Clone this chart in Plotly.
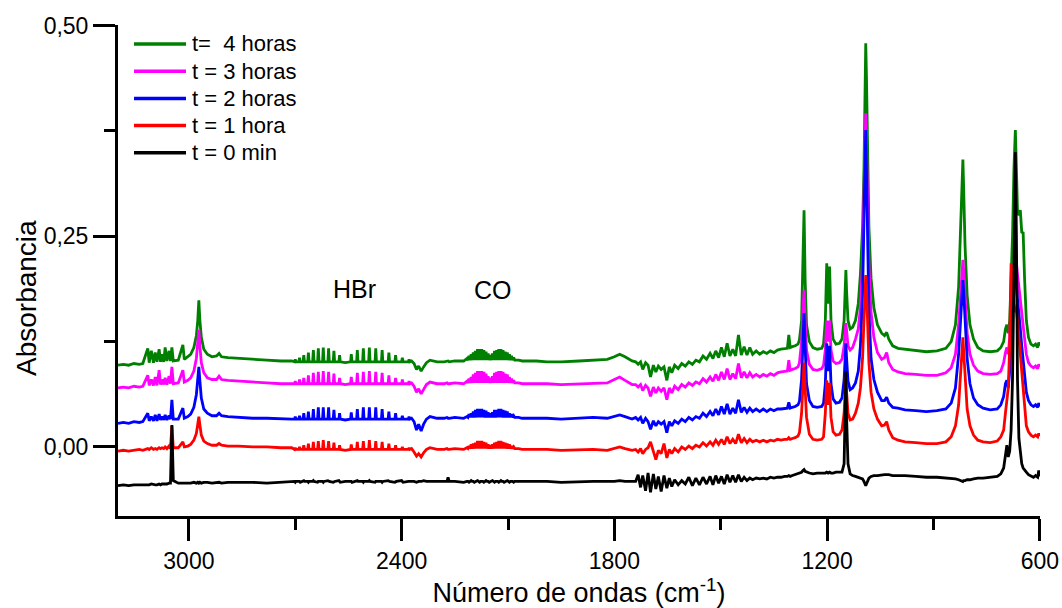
import plotly.graph_objects as go

# FTIR spectra of the gas cell at successive reaction times (wavenumber in cm-1)
wavenumber = [
    3200, 3185, 3170, 3155, 3140, 3130,
    3116, 3112, 3106, 3100, 3095, 3090, 3084, 3080, 3076, 3071, 3067, 3062, 3056, 3052, 3048, 3044, 3030, 3017, 3013,
    3003, 2995, 2986, 2979, 2975, 2972, 2969, 2965, 2958, 2948, 2935, 2922, 2915, 2908, 2890,
    2860, 2820, 2780, 2740, 2710,
    # HBr R branch
    2702, 2700, 2698, 2690, 2688, 2686, 2678, 2676, 2674, 2665, 2663, 2661, 2651, 2649, 2647,
    2637, 2635, 2633, 2623, 2621, 2619, 2608, 2606, 2604, 2593, 2591, 2589, 2577, 2575, 2573,
    2559,
    # HBr P branch
    2544, 2542, 2540, 2527, 2525, 2523, 2510, 2508, 2506, 2493, 2491, 2489, 2475, 2473, 2471,
    2457, 2455, 2453, 2438, 2436, 2434, 2419, 2417, 2415, 2400, 2398, 2396, 2381, 2379, 2377,
    2372,
    # CO2 region
    2365, 2358, 2352, 2345, 2338, 2330, 2320, 2300,
    2280, 2272, 2269, 2266, 2250, 2230,
    # CO band
    2225,
    2216, 2213, 2210, 2207, 2204, 2201, 2198, 2195, 2192, 2189, 2186, 2183, 2180, 2177, 2174, 2171,
    2168, 2165, 2162, 2159, 2156, 2153, 2150, 2147, 2144, 2141, 2138, 2135, 2132, 2129, 2126, 2123,
    2120, 2117, 2114, 2111, 2108, 2105, 2102, 2099, 2096, 2093, 2090, 2087, 2084, 2081,
    2070, 2060, 2045,
    2020, 1990, 1950, 1900, 1860,
    1820, 1800, 1785, 1770, 1750,
    # water vapour lines
    1740, 1733, 1726, 1720, 1712, 1705, 1698, 1690, 1683, 1676, 1668, 1660, 1652, 1645, 1638, 1630,
    1620, 1610, 1600, 1590, 1580, 1570, 1560, 1550, 1540, 1530, 1522, 1514, 1506, 1498, 1490, 1482,
    1474, 1466, 1458, 1450, 1442, 1434, 1426, 1418, 1410, 1400, 1390, 1380, 1370, 1360, 1350, 1340,
    1330, 1320, 1312, 1308, 1304, 1298, 1290, 1282,
    1278, 1272, 1268, 1265, 1262, 1258, 1250, 1240, 1228, 1215,
    1210, 1205, 1201, 1197, 1193, 1189, 1183, 1175, 1165,
    1158, 1152, 1149, 1147, 1145, 1141, 1135, 1128, 1120,
    1112, 1106, 1100, 1096, 1093, 1091, 1089, 1086, 1082, 1076, 1068, 1058, 1046, 1038, 1032, 1026, 1015, 1000,
    980, 950, 920, 890, 865,
    850, 838, 829, 823, 819, 817, 815, 811, 805, 797, 787, 775, 760,
    740, 720, 710,
    702, 697, 693, 689, 685, 681, 677, 673, 669, 666, 663, 659, 655, 651, 647, 643, 638, 632, 625, 618, 612, 606, 603, 600,
]

abs_4h = [
    0.097, 0.098, 0.097, 0.099, 0.098, 0.099,
    0.117, 0.100, 0.114, 0.100, 0.112, 0.101, 0.116, 0.101, 0.110, 0.101, 0.118, 0.102, 0.114, 0.102, 0.118, 0.102, 0.103, 0.121, 0.104,
    0.107, 0.110, 0.118, 0.132, 0.150, 0.174, 0.150, 0.130, 0.116, 0.110, 0.107, 0.108, 0.111, 0.107, 0.106,
    0.105, 0.104, 0.103, 0.102, 0.102,
    0.101, 0.104, 0.101, 0.101, 0.106, 0.101, 0.101, 0.109, 0.101, 0.101, 0.112, 0.101, 0.101, 0.115, 0.101,
    0.101, 0.117, 0.101, 0.101, 0.118, 0.101, 0.101, 0.117, 0.101, 0.101, 0.114, 0.101, 0.101, 0.109, 0.101,
    0.100,
    0.101, 0.110, 0.101, 0.101, 0.115, 0.101, 0.101, 0.117, 0.101, 0.101, 0.118, 0.101, 0.101, 0.117, 0.101,
    0.101, 0.115, 0.101, 0.101, 0.112, 0.101, 0.101, 0.109, 0.101, 0.101, 0.106, 0.101, 0.101, 0.104, 0.101,
    0.102,
    0.099, 0.092, 0.096, 0.090, 0.095, 0.100, 0.103, 0.101,
    0.101, 0.102, 0.102, 0.101, 0.102, 0.102,
    0.102,
    0.105, 0.103, 0.108, 0.103, 0.110, 0.103, 0.112, 0.103, 0.114, 0.103, 0.116, 0.103, 0.116, 0.103, 0.116, 0.103,
    0.115, 0.103, 0.113, 0.103, 0.111, 0.103, 0.109, 0.103, 0.111, 0.103, 0.114, 0.103, 0.115, 0.103, 0.116, 0.103,
    0.116, 0.103, 0.115, 0.103, 0.113, 0.103, 0.112, 0.103, 0.110, 0.103, 0.108, 0.103, 0.106, 0.103,
    0.103, 0.102, 0.102,
    0.102, 0.101, 0.101, 0.102, 0.103,
    0.104, 0.107, 0.110, 0.107, 0.102,
    0.101, 0.098, 0.101, 0.092, 0.100, 0.097, 0.083, 0.097, 0.089, 0.096, 0.092, 0.095, 0.079, 0.095, 0.088, 0.097,
    0.093, 0.099, 0.096, 0.101, 0.098, 0.103, 0.101, 0.108, 0.104, 0.111, 0.105, 0.114, 0.106, 0.118, 0.107, 0.123,
    0.108, 0.116, 0.108, 0.133, 0.109, 0.119, 0.109, 0.118, 0.110, 0.114, 0.110, 0.113, 0.111, 0.114, 0.112, 0.115,
    0.116, 0.117, 0.117, 0.133, 0.118, 0.119, 0.120, 0.122,
    0.127, 0.150, 0.210, 0.281, 0.200, 0.145, 0.125, 0.118, 0.116, 0.117,
    0.122, 0.150, 0.218, 0.170, 0.214, 0.150, 0.128, 0.122, 0.123,
    0.128, 0.150, 0.190, 0.210, 0.185, 0.150, 0.140, 0.142, 0.150,
    0.170, 0.205, 0.260, 0.330, 0.420, 0.479, 0.440, 0.350, 0.260, 0.200, 0.165, 0.145, 0.135, 0.132, 0.136, 0.128, 0.120, 0.117,
    0.116, 0.115, 0.113, 0.114, 0.117,
    0.125, 0.145, 0.190, 0.260, 0.320, 0.341, 0.310, 0.240, 0.180, 0.145, 0.128, 0.118, 0.114,
    0.113, 0.114, 0.118,
    0.125, 0.140, 0.145, 0.135, 0.150, 0.190, 0.250, 0.330, 0.376, 0.330, 0.280, 0.275, 0.281, 0.255, 0.254, 0.200, 0.150, 0.130, 0.122, 0.120, 0.122, 0.118, 0.124, 0.120,
]

abs_3h = [
    0.070, 0.071, 0.070, 0.072, 0.071, 0.072,
    0.085, 0.073, 0.080, 0.073, 0.083, 0.073, 0.091, 0.074, 0.080, 0.074, 0.082, 0.074, 0.084, 0.075, 0.095, 0.075, 0.076, 0.091, 0.077,
    0.079, 0.082, 0.090, 0.105, 0.122, 0.139, 0.120, 0.100, 0.088, 0.082, 0.080, 0.080, 0.084, 0.080, 0.079,
    0.078, 0.077, 0.076, 0.075, 0.075,
    0.075, 0.078, 0.075, 0.075, 0.080, 0.075, 0.075, 0.082, 0.075, 0.075, 0.085, 0.075, 0.075, 0.088, 0.075,
    0.075, 0.089, 0.075, 0.075, 0.090, 0.075, 0.075, 0.089, 0.075, 0.075, 0.087, 0.075, 0.075, 0.082, 0.075,
    0.074,
    0.075, 0.083, 0.075, 0.075, 0.088, 0.075, 0.075, 0.089, 0.075, 0.075, 0.090, 0.075, 0.075, 0.089, 0.075,
    0.075, 0.088, 0.075, 0.075, 0.085, 0.075, 0.075, 0.082, 0.075, 0.075, 0.080, 0.075, 0.075, 0.078, 0.075,
    0.076,
    0.072, 0.065, 0.069, 0.063, 0.068, 0.074, 0.077, 0.075,
    0.075, 0.076, 0.075, 0.075, 0.076, 0.075,
    0.075,
    0.078, 0.076, 0.081, 0.076, 0.083, 0.076, 0.086, 0.076, 0.088, 0.076, 0.090, 0.076, 0.090, 0.076, 0.090, 0.076,
    0.089, 0.076, 0.087, 0.076, 0.084, 0.076, 0.082, 0.076, 0.084, 0.076, 0.088, 0.076, 0.089, 0.076, 0.090, 0.076,
    0.090, 0.076, 0.089, 0.076, 0.087, 0.076, 0.086, 0.076, 0.083, 0.076, 0.081, 0.076, 0.079, 0.076,
    0.076, 0.075, 0.075,
    0.075, 0.075, 0.074, 0.075, 0.076,
    0.076, 0.080, 0.083, 0.079, 0.074,
    0.074, 0.071, 0.074, 0.067, 0.073, 0.070, 0.060, 0.071, 0.064, 0.070, 0.066, 0.070, 0.056, 0.070, 0.064, 0.072,
    0.068, 0.074, 0.071, 0.076, 0.073, 0.077, 0.075, 0.081, 0.077, 0.083, 0.078, 0.086, 0.079, 0.089, 0.080, 0.093,
    0.080, 0.087, 0.081, 0.099, 0.082, 0.089, 0.082, 0.088, 0.083, 0.086, 0.083, 0.086, 0.084, 0.087, 0.085, 0.088,
    0.089, 0.090, 0.090, 0.103, 0.091, 0.092, 0.093, 0.095,
    0.100, 0.125, 0.160, 0.186, 0.150, 0.115, 0.098, 0.092, 0.091, 0.093,
    0.097, 0.115, 0.150, 0.125, 0.150, 0.115, 0.102, 0.099, 0.100,
    0.104, 0.120, 0.140, 0.147, 0.138, 0.120, 0.115, 0.118, 0.128,
    0.140, 0.165, 0.220, 0.300, 0.365, 0.396, 0.360, 0.290, 0.215, 0.160, 0.130, 0.112, 0.104, 0.106, 0.112, 0.100, 0.092, 0.089,
    0.087, 0.086, 0.085, 0.085, 0.088,
    0.094, 0.110, 0.145, 0.190, 0.215, 0.222, 0.210, 0.175, 0.135, 0.110, 0.097, 0.090, 0.087,
    0.086, 0.087, 0.090,
    0.100, 0.112, 0.118, 0.110, 0.130, 0.170, 0.200, 0.215, 0.222, 0.218, 0.205, 0.190, 0.180, 0.160, 0.150, 0.130, 0.110, 0.100, 0.096, 0.094, 0.096, 0.093, 0.098, 0.095,
]

abs_2h = [
    0.028, 0.029, 0.028, 0.030, 0.029, 0.030,
    0.040, 0.031, 0.036, 0.031, 0.038, 0.031, 0.039, 0.032, 0.036, 0.032, 0.038, 0.032, 0.037, 0.033, 0.056, 0.033, 0.033, 0.046, 0.034,
    0.036, 0.039, 0.047, 0.062, 0.080, 0.095, 0.078, 0.058, 0.045, 0.040, 0.037, 0.037, 0.040, 0.037, 0.036,
    0.035, 0.034, 0.034, 0.033, 0.033,
    0.033, 0.036, 0.033, 0.033, 0.037, 0.033, 0.033, 0.040, 0.033, 0.033, 0.042, 0.033, 0.033, 0.045, 0.033,
    0.033, 0.047, 0.033, 0.033, 0.047, 0.033, 0.033, 0.047, 0.033, 0.033, 0.044, 0.033, 0.033, 0.040, 0.033,
    0.032,
    0.033, 0.041, 0.033, 0.033, 0.045, 0.033, 0.033, 0.047, 0.033, 0.033, 0.047, 0.033, 0.033, 0.047, 0.033,
    0.033, 0.045, 0.033, 0.033, 0.042, 0.033, 0.033, 0.040, 0.033, 0.033, 0.037, 0.033, 0.033, 0.036, 0.033,
    0.034,
    0.030, 0.020, 0.027, 0.019, 0.027, 0.033, 0.036, 0.034,
    0.034, 0.035, 0.034, 0.034, 0.035, 0.034,
    0.034,
    0.036, 0.035, 0.039, 0.035, 0.040, 0.035, 0.042, 0.035, 0.044, 0.035, 0.045, 0.035, 0.045, 0.035, 0.045, 0.035,
    0.044, 0.035, 0.043, 0.035, 0.041, 0.035, 0.040, 0.035, 0.041, 0.035, 0.044, 0.035, 0.044, 0.035, 0.045, 0.035,
    0.045, 0.035, 0.044, 0.035, 0.043, 0.035, 0.042, 0.035, 0.040, 0.035, 0.039, 0.035, 0.037, 0.035,
    0.035, 0.034, 0.034,
    0.034, 0.034, 0.033, 0.034, 0.035,
    0.034, 0.036, 0.038, 0.036, 0.033,
    0.035, 0.032, 0.035, 0.028, 0.034, 0.030, 0.021, 0.031, 0.025, 0.030, 0.027, 0.030, 0.017, 0.030, 0.025, 0.031,
    0.028, 0.033, 0.030, 0.035, 0.032, 0.036, 0.034, 0.040, 0.036, 0.042, 0.037, 0.045, 0.038, 0.048, 0.039, 0.051,
    0.039, 0.046, 0.040, 0.056, 0.041, 0.047, 0.041, 0.046, 0.042, 0.045, 0.042, 0.045, 0.042, 0.045, 0.043, 0.045,
    0.045, 0.046, 0.046, 0.053, 0.046, 0.047, 0.048, 0.050,
    0.054, 0.080, 0.125, 0.159, 0.120, 0.075, 0.055, 0.048, 0.047, 0.048,
    0.052, 0.075, 0.123, 0.090, 0.120, 0.075, 0.057, 0.052, 0.053,
    0.058, 0.080, 0.110, 0.123, 0.105, 0.078, 0.068, 0.070, 0.076,
    0.090, 0.120, 0.180, 0.270, 0.340, 0.376, 0.330, 0.240, 0.160, 0.105, 0.080, 0.065, 0.055, 0.055, 0.059, 0.052, 0.047, 0.046,
    0.044, 0.043, 0.042, 0.043, 0.045,
    0.052, 0.070, 0.110, 0.160, 0.190, 0.198, 0.185, 0.150, 0.105, 0.075, 0.058, 0.050, 0.046,
    0.044, 0.045, 0.050,
    0.060, 0.075, 0.079, 0.070, 0.090, 0.130, 0.170, 0.195, 0.198, 0.190, 0.175, 0.160, 0.140, 0.120, 0.100, 0.080, 0.065, 0.055, 0.050, 0.048, 0.050, 0.047, 0.052, 0.048,
]

abs_1h = [
    -0.005, -0.004, -0.005, -0.004, -0.003, -0.004,
    -0.002, -0.003, -0.001, -0.003, -0.002, -0.003, -0.001, -0.002, -0.001, -0.002, 0.000, -0.002, 0.001, -0.002, 0.025, -0.001, -0.001, 0.006, 0.000,
    0.001, 0.003, 0.008, 0.016, 0.027, 0.036, 0.026, 0.014, 0.007, 0.004, 0.002, 0.002, 0.004, 0.002, 0.001,
    0.001, 0.000, 0.000, -0.001, -0.001,
    -0.003, -0.001, -0.003, -0.003, 0.000, -0.003, -0.003, 0.002, -0.003, -0.003, 0.004, -0.003, -0.003, 0.006, -0.003,
    -0.003, 0.007, -0.003, -0.003, 0.008, -0.003, -0.003, 0.007, -0.003, -0.003, 0.005, -0.003, -0.003, 0.002, -0.003,
    -0.004,
    -0.003, 0.003, -0.003, -0.003, 0.006, -0.003, -0.003, 0.007, -0.003, -0.003, 0.008, -0.003, -0.003, 0.007, -0.003,
    -0.003, 0.006, -0.003, -0.003, 0.004, -0.003, -0.003, 0.002, -0.003, -0.003, 0.000, -0.003, -0.003, -0.001, -0.003,
    -0.002,
    -0.006, -0.011, -0.008, -0.012, -0.007, -0.003, -0.001, -0.003,
    -0.003, -0.002, -0.003, -0.003, -0.002, -0.003,
    -0.003,
    -0.001, -0.002, 0.001, -0.002, 0.003, -0.002, 0.004, -0.002, 0.005, -0.002, 0.007, -0.002, 0.007, -0.002, 0.007, -0.002,
    0.006, -0.002, 0.005, -0.002, 0.003, -0.002, 0.002, -0.002, 0.003, -0.002, 0.005, -0.002, 0.006, -0.002, 0.007, -0.002,
    0.007, -0.002, 0.006, -0.002, 0.005, -0.002, 0.004, -0.002, 0.003, -0.002, 0.001, -0.002, 0.000, -0.002,
    -0.002, -0.003, -0.003,
    -0.003, -0.003, -0.004, -0.003, -0.003,
    -0.004, -0.002, 0.000, -0.002, -0.004,
    -0.003, -0.006, -0.002, -0.008, -0.003, -0.001, 0.006, -0.006, -0.015, -0.004, -0.008, 0.004, -0.013, -0.003, -0.008, -0.002,
    -0.006, 0.000, -0.003, 0.001, -0.002, 0.002, 0.000, 0.005, 0.001, 0.006, 0.002, 0.008, 0.003, 0.009, 0.003, 0.012,
    0.004, 0.009, 0.004, 0.015, 0.005, 0.010, 0.005, 0.009, 0.006, 0.008, 0.006, 0.008, 0.006, 0.008, 0.007, 0.009,
    0.008, 0.009, 0.009, 0.011, 0.009, 0.010, 0.011, 0.013,
    0.017, 0.040, 0.075, 0.100, 0.070, 0.035, 0.015, 0.009, 0.008, 0.009,
    0.012, 0.040, 0.079, 0.050, 0.076, 0.035, 0.018, 0.014, 0.015,
    0.020, 0.040, 0.070, 0.083, 0.065, 0.040, 0.032, 0.033, 0.040,
    0.052, 0.070, 0.105, 0.150, 0.190, 0.204, 0.190, 0.150, 0.100, 0.065, 0.045, 0.033, 0.025, 0.026, 0.030, 0.020, 0.011, 0.008,
    0.006, 0.005, 0.004, 0.004, 0.006,
    0.012, 0.025, 0.050, 0.090, 0.120, 0.130, 0.115, 0.080, 0.045, 0.025, 0.014, 0.008, 0.006,
    0.005, 0.007, 0.012,
    0.020, 0.040, 0.060, 0.070, 0.120, 0.218, 0.200, 0.170, 0.160, 0.162, 0.150, 0.130, 0.110, 0.080, 0.060, 0.040, 0.025, 0.018, 0.014, 0.012, 0.014, 0.012, 0.016, 0.013,
]

abs_0min = [
    -0.046, -0.045, -0.046, -0.045, -0.045, -0.045,
    -0.045, -0.045, -0.044, -0.045, -0.045, -0.045, -0.044, -0.045, -0.044, -0.044, -0.044, -0.044, -0.043, -0.043, 0.026, -0.040, -0.043, -0.043, -0.043,
    -0.043, -0.043, -0.042, -0.043, -0.042, -0.043, -0.042, -0.043, -0.042, -0.042, -0.043, -0.042, -0.042, -0.043, -0.042,
    -0.042, -0.042, -0.043, -0.042, -0.042,
    -0.041, -0.042, -0.041, -0.041, -0.041, -0.042, -0.041, -0.040, -0.041, -0.041,
    -0.042, -0.041, -0.041, -0.040, -0.041, -0.042, -0.041, -0.041, -0.041, -0.042,
    -0.041, -0.040, -0.041, -0.041, -0.042, -0.041, -0.041, -0.040, -0.041, -0.042,
    -0.041, -0.041, -0.041, -0.042, -0.041, -0.040, -0.041, -0.041, -0.042, -0.041,
    -0.041, -0.040, -0.041, -0.042, -0.041, -0.041, -0.041, -0.042, -0.041, -0.040,
    -0.041, -0.041, -0.042, -0.041, -0.041, -0.040, -0.041, -0.042, -0.041, -0.041,
    -0.041, -0.041,
    -0.041, -0.042, -0.041, -0.041, -0.040, -0.041, -0.041, -0.041,
    -0.041, -0.041, -0.036, -0.041, -0.041, -0.042,
    -0.042, -0.041, -0.041, -0.042, -0.041, -0.040, -0.041, -0.041, -0.042, -0.041,
    -0.041, -0.040, -0.041, -0.042, -0.041, -0.041, -0.041, -0.042, -0.041, -0.040,
    -0.041, -0.041, -0.042, -0.041, -0.041, -0.040, -0.041, -0.042, -0.041, -0.041,
    -0.041, -0.042, -0.041, -0.040, -0.041, -0.041, -0.042, -0.041, -0.041, -0.040,
    -0.041, -0.042, -0.041, -0.041, -0.041, -0.042, -0.041, -0.041, -0.041, -0.041,
    -0.041, -0.041, -0.042, -0.041, -0.041,
    -0.041, -0.041, -0.040, -0.041, -0.041,
    -0.041, -0.033, -0.048, -0.034, -0.052, -0.031, -0.054, -0.032, -0.050, -0.035, -0.053, -0.034, -0.049, -0.037, -0.047, -0.039,
    -0.045, -0.040, -0.044, -0.036, -0.046, -0.037, -0.045, -0.036, -0.044, -0.035, -0.045, -0.034, -0.043, -0.035, -0.044, -0.033,
    -0.042, -0.034, -0.042, -0.033, -0.041, -0.036, -0.040, -0.037, -0.039, -0.037, -0.038, -0.037, -0.038, -0.036, -0.037, -0.036,
    -0.036, -0.035, -0.035, -0.034, -0.035, -0.034, -0.033, -0.032,
    -0.031, -0.030, -0.028, -0.027, -0.029, -0.030, -0.031, -0.032, -0.031, -0.031,
    -0.031, -0.031, -0.030, -0.031, -0.030, -0.031, -0.031, -0.030, -0.030,
    -0.030, -0.020, 0.040, 0.090, 0.035, -0.020, -0.032, -0.034, -0.035,
    -0.036, -0.037, -0.038, -0.041, -0.044, -0.046, -0.044, -0.040, -0.037, -0.035, -0.034, -0.034, -0.033, -0.033, -0.033, -0.033, -0.034, -0.034,
    -0.034, -0.035, -0.036, -0.036, -0.037,
    -0.037, -0.038, -0.039, -0.040, -0.040, -0.041, -0.040, -0.040, -0.039, -0.039, -0.038, -0.037, -0.037,
    -0.036, -0.035, -0.032,
    -0.025, -0.010, 0.002, -0.012, -0.005, 0.020, 0.080, 0.200, 0.350, 0.250, 0.080, 0.010, -0.010, -0.020, -0.025, -0.028, -0.030, -0.033, -0.035, -0.036, -0.034, -0.036, -0.028, -0.035,
]

series_labels = ["t=\u00a0 4 horas", "t = 3 horas", "t = 2 horas", "t = 1 hora", "t = 0 min"]
series_colors = ["#008000", "#FF00FF", "#0000FF", "#FF0000", "#000000"]
series_values = [abs_4h, abs_3h, abs_2h, abs_1h, abs_0min]

x_tick_values = [3000, 2400, 1800, 1200, 600]
x_tick_labels = ["3000", "2400", "1800", "1200", "600"]
x_minor_values = [2700, 2100, 1500, 900]
y_tick_values = [0.0, 0.25, 0.5]
y_tick_labels = ["0,00", "0,25", "0,50"]
y_minor_values = [0.125, 0.375]

for values in series_values:
    assert len(values) == len(wavenumber), (len(values), len(wavenumber))

FONT = 'Arial, "Liberation Sans", sans-serif'
W, H = 1062, 608
L, R, T, B = 118, 22, 25, 92
plot_w, plot_h = W - L - R, H - T - B

fig = go.Figure()
for label, color, values in zip(series_labels, series_colors, series_values):
    fig.add_trace(go.Scatter(
        x=wavenumber, y=values, mode="lines", name=label,
        line=dict(color=color, width=2.8),
        showlegend=False, hoverinfo="skip",
    ))

# legend drawn as short line samples with labels, top-left of the plot
for i, (label, color) in enumerate(zip(series_labels, series_colors)):
    ypx = 44 + 27.2 * i
    yp = (H - B - ypx) / plot_h
    fig.add_shape(type="line", xref="paper", yref="paper",
                  x0=(134 - L) / plot_w, x1=(186 - L) / plot_w, y0=yp, y1=yp,
                  line=dict(color=color, width=3.5))
    fig.add_annotation(xref="paper", yref="paper", x=(190 - L) / plot_w, y=yp,
                       text=label, showarrow=False, xanchor="left", yanchor="middle",
                       font=dict(family=FONT, size=22, color="black"))

# band assignments
fig.add_annotation(x=2532, y=0.188, text="HBr", showarrow=False,
                   font=dict(family=FONT, size=25, color="black"))
fig.add_annotation(x=2141, y=0.186, text="CO", showarrow=False,
                   font=dict(family=FONT, size=25, color="black"))

# y-axis title, placed along the lower part of the axis
fig.add_annotation(xref="paper", yref="paper", x=(26 - L) / plot_w, y=(H - B - 298) / plot_h,
                   text="Absorbancia", textangle=-90, showarrow=False,
                   xanchor="center", yanchor="middle",
                   font=dict(family=FONT, size=28, color="black"))

fig.update_layout(
    width=W, height=H,
    margin=dict(l=L, r=R, t=T, b=B, autoexpand=False),
    paper_bgcolor="white", plot_bgcolor="white",
    showlegend=False,
    font=dict(family=FONT, color="black"),
)
fig.update_xaxes(
    range=[3200, 599.5], automargin=False,
    showline=True, linewidth=3, linecolor="black",
    showgrid=False, zeroline=False,
    ticks="outside", ticklen=22, tickwidth=3, tickcolor="black",
    tickmode="array", tickvals=x_tick_values, ticktext=x_tick_labels,
    tickfont=dict(family=FONT, size=23, color="black"),
    minor=dict(tickmode="array", tickvals=x_minor_values, ticks="outside",
               ticklen=11, tickwidth=3, tickcolor="black", showgrid=False),
    title=dict(text="Número de ondas (cm<sup>-1</sup>)",
               font=dict(family=FONT, size=27, color="black"), standoff=9),
)
fig.update_yaxes(
    range=[-0.082, 0.5008], automargin=False,
    showline=True, linewidth=3, linecolor="black",
    showgrid=False, zeroline=False,
    ticks="outside", ticklen=22, tickwidth=3, tickcolor="black",
    tickmode="array", tickvals=y_tick_values, ticktext=y_tick_labels,
    tickfont=dict(family=FONT, size=23, color="black"),
    minor=dict(tickmode="array", tickvals=y_minor_values, ticks="outside",
               ticklen=11, tickwidth=3, tickcolor="black", showgrid=False),
)

fig.write_html("out.html")
